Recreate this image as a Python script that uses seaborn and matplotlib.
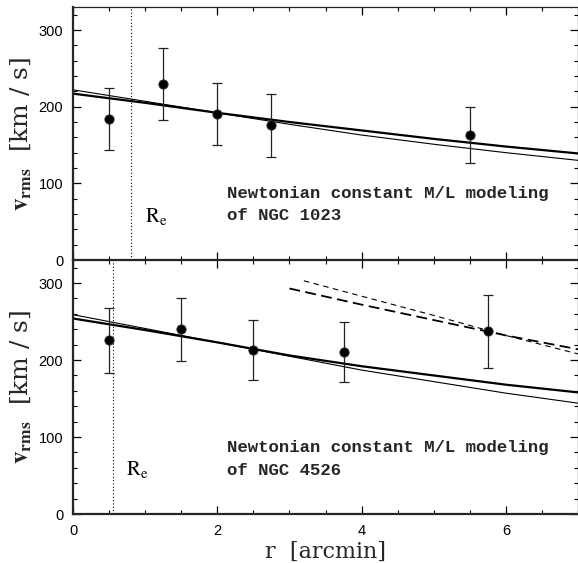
import matplotlib
matplotlib.use("Agg")
import matplotlib.pyplot as plt
import seaborn as sns
from matplotlib.ticker import MultipleLocator

# measured points, NGC 1023 (top) and NGC 4526 (bottom)
r_1023 = [0.5, 1.25, 2.0, 2.75, 5.5]
v_1023 = [184, 229.5, 190.5, 175.5, 162.5]
err_1023 = [40, 46.5, 40.5, 40.5, 36.5]

r_4526 = [0.5, 1.5, 2.5, 3.75, 5.75]
v_4526 = [225.5, 240, 213, 210.5, 237.5]
err_4526 = [42, 41, 39, 39.5, 47.5]

# model curves
model_r = [0, 1, 2, 3, 4, 5, 6, 7]
model_1023_thick = [217, 205, 192, 180, 169, 158, 148, 139]
model_1023_thin = [222, 207, 192, 177, 163, 151, 140, 130]
model_4526_thick = [254, 239, 223, 206, 192, 180, 168, 158]
model_4526_thin = [259, 241, 223, 205, 187, 172, 157, 144]

dash_r_thick = [3, 4, 5, 6, 7]
dash_v_thick = [293, 272, 252, 232, 214]
dash_r_thin = [3.2, 4, 5, 6, 7]
dash_v_thin = [303, 283, 258, 232, 208]

re_1023 = 0.81
re_4526 = 0.55

sns.set_style("ticks")
plt.rcParams['font.family'] = ['Liberation Sans', 'DejaVu Sans']
plt.rcParams['mathtext.fontset'] = 'stix'

fig = plt.figure(figsize=(5.78, 5.63), dpi=100)
ax_top = fig.add_axes([73 / 578, 303 / 563, 505 / 578, 253 / 563])
ax_bot = fig.add_axes([73 / 578, 49 / 563, 505 / 578, 254 / 563])

panels = [
    (ax_top, r_1023, v_1023, err_1023, model_1023_thick, model_1023_thin,
     re_1023, (1.0, 50), "of NGC 1023", (87, 58)),
    (ax_bot, r_4526, v_4526, err_4526, model_4526_thick, model_4526_thin,
     re_4526, (0.74, 51), "of NGC 4526", (86, 56)),
]

for ax, r, v, err, thick, thin, re, re_pos, name, text_y in panels:
    sns.lineplot(x=model_r, y=thick, ax=ax, color="black", lw=1.6)
    sns.lineplot(x=model_r, y=thin, ax=ax, color="black", lw=0.8)
    ax.errorbar(r, v, yerr=err, fmt="none", ecolor="#222222",
                elinewidth=0.9, capsize=3.5, capthick=0.9, zorder=3)
    sns.scatterplot(x=r, y=v, ax=ax, color="black", s=45,
                    edgecolor="#333333", linewidth=0.6, zorder=4)
    ax.axvline(re, color="black", ls=(0, (1, 2)), lw=0.8)
    ax.text(re_pos[0], re_pos[1], r"$\mathrm{R_e}$", fontsize=15,
            color="black")
    ax.text(2.13, text_y[0], "Newtonian constant M/L modeling",
            family="Liberation Mono", fontweight="bold", fontsize=12.5,
            va="center")
    ax.text(2.13, text_y[1], name, family="Liberation Mono",
            fontweight="bold", fontsize=12.5, va="center")

    ax.set_xlim(0, 7)
    ax.set_ylim(0, 330)
    ax.set_yticks([0, 100, 200, 300])
    ax.yaxis.set_minor_locator(MultipleLocator(20))
    ax.set_xticks([0, 2, 4, 6])
    ax.xaxis.set_minor_locator(MultipleLocator(0.5))
    ax.tick_params(which="both", direction="in", top=True, right=True,
                   colors="black", labelsize=10.5, pad=7)
    ax.tick_params(which="major", length=6, width=0.9)
    ax.tick_params(which="minor", length=3, width=0.8)
    for side in ["left", "bottom"]:
        ax.spines[side].set_linewidth(1.6)
    for side in ["top", "right"]:
        ax.spines[side].set_linewidth(0.9)
    ax.set_ylabel(r"$\mathbf{v}_{\mathbf{rms}}$  [km / s]", fontsize=18,
                  family="DejaVu Serif", labelpad=4)

sns.lineplot(x=dash_r_thick, y=dash_v_thick, ax=ax_bot, color="black",
             lw=1.3, linestyle=(0, (6, 3)))
sns.lineplot(x=dash_r_thin, y=dash_v_thin, ax=ax_bot, color="black",
             lw=0.8, linestyle=(0, (5, 4)))

ax_top.tick_params(labelbottom=False)
ax_bot.set_xlabel("r  [arcmin]", fontsize=16, family="DejaVu Serif",
                  labelpad=2)

fig.savefig("out.png", dpi=100)
